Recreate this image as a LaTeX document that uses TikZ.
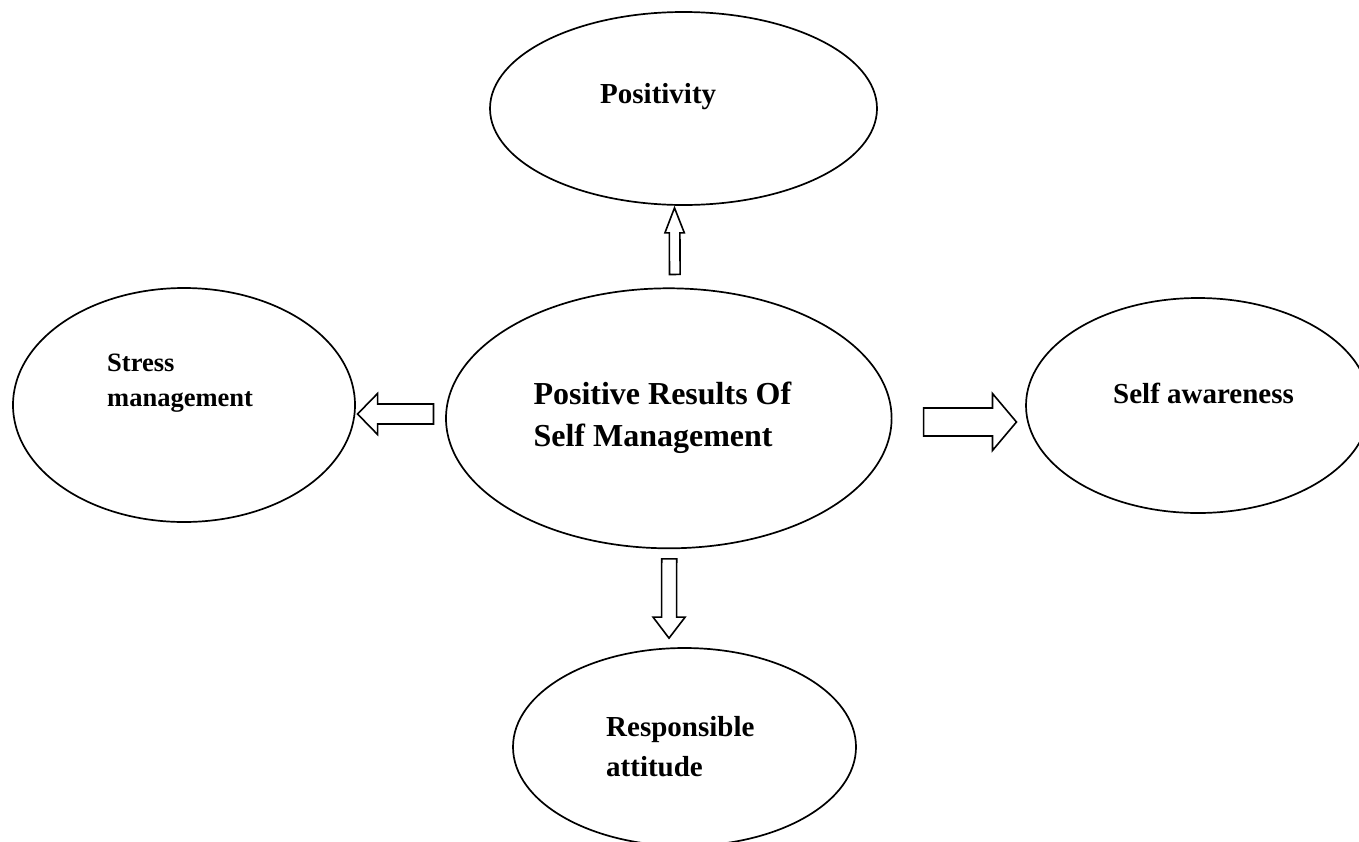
\documentclass[tikz,border=0pt]{standalone}
\usepackage{fontspec}
\setmainfont{Liberation Serif}
\usetikzlibrary{shapes.geometric,calc}
\tikzset{
  ell/.style={draw, ellipse, line width=1.7pt, inner sep=0pt},
  lbl/.style={anchor=base west, inner sep=0pt, font=\bfseries\fontsize{29}{35}\selectfont},
  lblsmall/.style={lbl, font=\bfseries\fontsize{26.5}{32}\selectfont},
  lblbig/.style={lbl, font=\bfseries\fontsize{32}{38}\selectfont},
  arrowline/.style={draw, line width=1.6pt, line join=miter, fill=white},
}
% #1 start coordinate, #2 tip coordinate, #3 shaft half width, #4 head half width, #5 head length
\newcommand\blockarrow[5]{%
  \coordinate (#1-hb) at ($(#2)!#5!(#1)$);
  \draw[arrowline] ($(#1)!#3!90:(#2)$) -- ($(#1-hb)!#3!90:(#2)$) -- ($(#1-hb)!#4!90:(#2)$)
    -- (#2) -- ($(#1-hb)!#4!-90:(#2)$) -- ($(#1-hb)!#3!-90:(#2)$) -- ($(#1)!#3!-90:(#2)$) -- cycle;
}
\begin{document}
\begin{tikzpicture}[x=1pt,y=-1pt]
\useasboundingbox[fill=white] (0,0) rectangle (1359,841);

% ellipses
\node[ell, minimum width=387pt, minimum height=193pt] (pos) at (683.5,108.5) {};
\node[ell, minimum width=445.6pt, minimum height=260pt] (c) at (668.8,418.3) {};
\node[ell, minimum width=342pt, minimum height=234pt] (stress) at (184,405) {};
\node[ell, minimum width=344pt, minimum height=215pt] (aware) at (1198,405.5) {};
\node[ell, minimum width=343pt, minimum height=198pt] (resp) at (684.5,747) {};

% labels
\node[lbl] (posT) at (600,103.3) {Positivity};
\node[lblbig] (cT1) at (533.3,404.3) {Positive Results Of};
\node[lblbig] (cT2) at (533.3,446.7) {Self Management};
\node[lblsmall] (stressT1) at (107,371) {Stress};
\node[lblsmall] (stressT2) at (107,406.7) {management};
\node[lbl] (awareT) at (1113,403.3) {Self awareness};
\node[lbl] (respT1) at (606,736.7) {Responsible};
\node[lbl] (respT2) at (606,776) {attitude};

% arrow end points
\coordinate (upS) at ($(c.north)+(6,-13)$);
\coordinate (upT) at ($(pos.south)+(-9,2)$);
\coordinate (leftS) at ($(c.west)+(-11.7,-4.3)$);
\coordinate (leftT) at ($(stress.east)+(1.7,9)$);
\coordinate (rightS) at ($(c.east)+(31.1,3.7)$);
\coordinate (rightT) at ($(aware.west)+(-8.7,16.5)$);
\coordinate (downS) at ($(c.south)+(0.4,9.7)$);
\coordinate (downT) at ($(resp.north)+(-15.5,-9)$);

\blockarrow{upS}{upT}{5.3pt}{9.7pt}{25pt}
\blockarrow{leftS}{leftT}{10pt}{20.5pt}{20pt}
\blockarrow{rightS}{rightT}{14pt}{28.5pt}{24pt}
\blockarrow{downS}{downT}{7.5pt}{16pt}{21pt}
\end{tikzpicture}
\end{document}
